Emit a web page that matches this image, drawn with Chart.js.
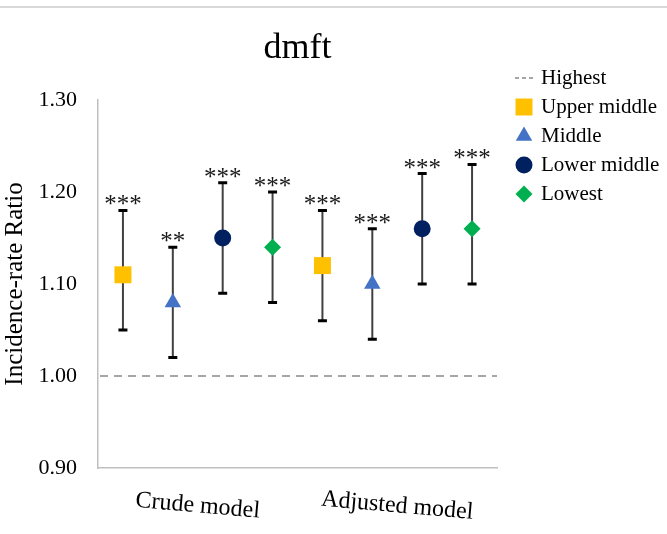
<!DOCTYPE html>
<html>
<head>
<meta charset="utf-8">
<title>dmft</title>
<script src="https://cdn.jsdelivr.net/npm/chart.js@4.4.1/dist/chart.umd.min.js"></script>
<style>
  html, body { margin: 0; padding: 0; background: #fff; }
  canvas { display: block; }
</style>
</head>
<body>
<canvas id="irrChart" width="667" height="534"></canvas>
<script>
const models = ['Crude model', 'Adjusted model'];
const groups = ['Upper middle', 'Middle', 'Lower middle', 'Lowest'];
const referenceGroup = 'Highest';
const referenceValue = 1.0;

const crudeIRR = [1.11, 1.08, 1.15, 1.14];
const crudeLow = [1.05, 1.02, 1.09, 1.08];
const crudeHigh = [1.18, 1.14, 1.21, 1.20];
const crudeSig = ['***', '**', '***', '***'];

const adjustedIRR = [1.12, 1.10, 1.16, 1.16];
const adjustedLow = [1.06, 1.04, 1.10, 1.10];
const adjustedHigh = [1.18, 1.16, 1.22, 1.23];
const adjustedSig = ['***', '***', '***', '***'];

const yTicks = [0.90, 1.00, 1.10, 1.20, 1.30];

const groupColors = ['#FFC000', '#4472C4', '#002060', '#00B050'];
const groupShapes = ['rect', 'triangle', 'circle', 'rectRot'];
const groupRadius = [12, 9.5, 8.5, 8.5];

const SERIF = "'Liberation Serif', 'Times New Roman', serif";

// one category per model/group pair, 4 per model
const xLabels = models.flatMap(m => groups.map(g => m + ' / ' + g));
const modelIRR = [crudeIRR, adjustedIRR];
const modelLow = [crudeLow, adjustedLow];
const modelHigh = [crudeHigh, adjustedHigh];
const modelSig = [crudeSig, adjustedSig];

function pick(src, gi) {
  return xLabels.map((_, i) => (i % groups.length === gi) ? src[Math.floor(i / groups.length)][gi] : null);
}

const datasets = groups.map((g, gi) => ({
  label: g,
  data: pick(modelIRR, gi),
  lows: pick(modelLow, gi),
  highs: pick(modelHigh, gi),
  sigs: pick(modelSig, gi),
  showLine: false,
  pointStyle: groupShapes[gi],
  pointRadius: groupRadius[gi],
  pointHoverRadius: groupRadius[gi],
  backgroundColor: groupColors[gi],
  borderColor: groupColors[gi],
  pointBorderWidth: 0
}));

const framePlugin = {
  id: 'frame',
  beforeDraw(chart) {
    const ctx = chart.ctx;
    ctx.save();
    ctx.strokeStyle = '#d9d9d9';
    ctx.lineWidth = 2;
    ctx.beginPath();
    ctx.moveTo(0, 7);
    ctx.lineTo(chart.width, 7);
    ctx.stroke();
    ctx.restore();
  }
};

const errorBarPlugin = {
  id: 'errorBars',
  beforeDatasetsDraw(chart) {
    const { ctx, chartArea, scales: { y } } = chart;
    // reference line (Highest = 1.00)
    const yRef = y.getPixelForValue(referenceValue);
    ctx.save();
    ctx.strokeStyle = '#a6a6a6';
    ctx.lineWidth = 2;
    ctx.setLineDash([8, 6]);
    ctx.beginPath();
    ctx.moveTo(chartArea.left + 2, yRef);
    ctx.lineTo(chartArea.right, yRef);
    ctx.stroke();
    ctx.setLineDash([]);

    chart.data.datasets.forEach((ds, di) => {
      const meta = chart.getDatasetMeta(di);
      ds.data.forEach((v, i) => {
        if (v === null) return;
        const x = meta.data[i].x;
        const yLo = y.getPixelForValue(ds.lows[i]);
        const yHi = y.getPixelForValue(ds.highs[i]);
        ctx.strokeStyle = '#404040';
        ctx.lineWidth = 2;
        ctx.beginPath();
        ctx.moveTo(x, yLo);
        ctx.lineTo(x, yHi);
        ctx.stroke();
        ctx.strokeStyle = '#000';
        ctx.lineWidth = 3;
        ctx.beginPath();
        ctx.moveTo(x - 4.5, yLo);
        ctx.lineTo(x + 4.5, yLo);
        ctx.moveTo(x - 4.5, yHi);
        ctx.lineTo(x + 4.5, yHi);
        ctx.stroke();
      });
    });
    ctx.restore();
  },
  afterDatasetsDraw(chart) {
    const { ctx, scales: { y } } = chart;
    ctx.save();
    ctx.fillStyle = '#1a1a1a';
    ctx.font = '25px ' + SERIF;
    ctx.textAlign = 'center';
    ctx.textBaseline = 'alphabetic';
    chart.data.datasets.forEach((ds, di) => {
      const meta = chart.getDatasetMeta(di);
      ds.data.forEach((v, i) => {
        if (v === null) return;
        ctx.fillText(ds.sigs[i], meta.data[i].x, y.getPixelForValue(ds.highs[i]) + 2);
      });
    });
    ctx.restore();
  }
};

const labelsPlugin = {
  id: 'modelLabels',
  afterDraw(chart) {
    const { ctx, scales: { x } } = chart;
    const n = groups.length;
    ctx.save();
    ctx.fillStyle = '#000';
    ctx.font = '24px ' + SERIF;
    ctx.textAlign = 'center';
    ctx.textBaseline = 'middle';
    models.forEach((m, mi) => {
      const cx = (x.getPixelForValue(mi * n) + x.getPixelForValue(mi * n + n - 1)) / 2;
      ctx.save();
      ctx.translate(cx, 506);
      ctx.rotate(5 * Math.PI / 180);
      ctx.fillText(m, 0, 0);
      ctx.restore();
    });
    ctx.restore();
  }
};

const legendPlugin = {
  id: 'sideLegend',
  afterDraw(chart) {
    const ctx = chart.ctx;
    const mx = 524, tx = 541, top = 78, step = 29;
    ctx.save();
    ctx.font = '21px ' + SERIF;
    ctx.fillStyle = '#000';
    ctx.textBaseline = 'middle';
    ctx.textAlign = 'left';

    ctx.strokeStyle = '#a6a6a6';
    ctx.lineWidth = 2;
    ctx.setLineDash([4, 3]);
    ctx.beginPath();
    ctx.moveTo(515, top);
    ctx.lineTo(534, top);
    ctx.stroke();
    ctx.setLineDash([]);
    ctx.fillText(referenceGroup, tx, top);

    chart.data.datasets.forEach((ds, di) => {
      const yy = top + step * (di + 1);
      ctx.fillStyle = ds.backgroundColor;
      Chart.helpers.drawPoint(ctx, { pointStyle: ds.pointStyle, radius: ds.pointRadius, rotation: 0, borderWidth: 0 }, mx, yy);
      ctx.fillStyle = '#000';
      ctx.fillText(ds.label, tx, yy);
    });
    ctx.restore();
  }
};

new Chart(document.getElementById('irrChart'), {
  type: 'line',
  data: { labels: xLabels, datasets },
  options: {
    responsive: false,
    animation: false,
    layout: { padding: { top: 0, left: 0, right: 170, bottom: 0 } },
    plugins: {
      legend: { display: false },
      tooltip: { enabled: false },
      title: {
        display: true,
        text: 'dmft',
        fullSize: false,
        color: '#000',
        font: { family: SERIF, size: 36, weight: 'normal' },
        padding: { top: 27, bottom: 29.8 }
      }
    },
    scales: {
      x: {
        offset: true,
        ticks: { display: false },
        grid: { display: false, drawTicks: false },
        border: { color: '#bfbfbf', width: 1.5 },
        afterFit: s => { s.height = 66; }
      },
      y: {
        min: 0.9,
        max: 1.3,
        afterBuildTicks: s => { s.ticks = yTicks.map(v => ({ value: v })); },
        ticks: {
          callback: v => Number(v).toFixed(2),
          color: '#000',
          font: { family: SERIF, size: 22 },
          padding: 21
        },
        grid: { display: false, drawTicks: false },
        border: { color: '#bfbfbf', width: 1.5 },
        title: {
          display: true,
          text: 'Incidence-rate Ratio',
          color: '#000',
          font: { family: SERIF, size: 25 },
          padding: { top: 0, bottom: 0 }
        },
        afterFit: s => { s.width = 98; }
      }
    }
  },
  plugins: [framePlugin, errorBarPlugin, labelsPlugin, legendPlugin]
});
</script>
</body>
</html>
